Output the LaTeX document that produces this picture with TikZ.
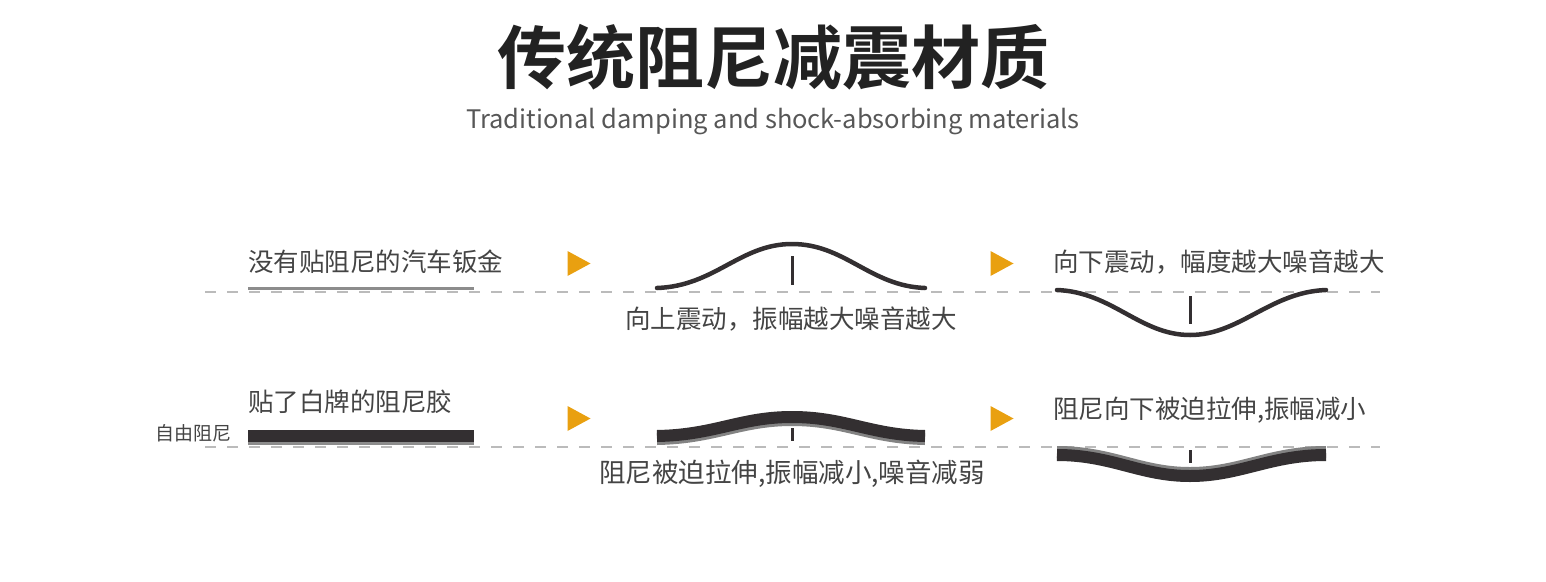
\documentclass[tikz,border=0pt]{standalone}
\usepackage{fontspec}
\setmainfont{Noto Sans CJK SC}
\newfontfamily\headfont{Noto Sans CJK SC Bold}
\usetikzlibrary{positioning}
\definecolor{ink}{HTML}{222222}
\definecolor{txt}{HTML}{444444}
\definecolor{wave}{HTML}{332F31}
\definecolor{gobtn}{HTML}{E9A010}
\definecolor{guide}{HTML}{BBBBBB}
\newcommand{\tick}[3]{\draw[wave, line width=3] (#1,#2) -- (#1,#3);}
\newcommand{\gomark}[2]{\fill[gobtn] (#1-11.5,#2-12.5) -- (#1+11.5,#2) -- (#1-11.5,#2+12.5) -- cycle;}

\begin{document}
\begin{tikzpicture}[x=1pt,y=-1pt,
    caption/.style={text=txt, inner sep=0pt, font=\fontsize{25.5}{28}\selectfont},
    guideline/.style={guide, line width=2, dash pattern=on 11 off 11},
    sheet/.style={wave, line width=4.5, line cap=round},
    band/.style={wave, line width=12},
    bandedge/.style={guide!70!black, line width=12}]
      \useasboundingbox (0,0) rectangle (1546,581);
      % heading
      \node[text=ink, inner sep=0pt, font=\fontsize{69}{72}\headfont] (title) at (773,57) {传统阻尼减震材质};
      \node[text=txt!90, inner sep=0pt, font=\fontsize{25.5}{28}\selectfont, below=18pt of title] (subtitle) {Traditional damping and shock-absorbing materials};

      % first row: bare sheet
      \draw[guideline] (205,292) -- (1380,292);
      \node[caption, anchor=west] (bare) at (248,262) {没有贴阻尼的汽车钣金};
      \fill[guide!75!black] (248,286.5) rectangle (474,290);
      \gomark{579}{263.5}
      \draw[sheet] (657,288) .. controls (715,286) and (740,244) .. (792,244)
        .. controls (845,244) and (870,286) .. (925,288);
      \tick{792}{256}{285}
      \node[caption] (up) at (791,319) {向上震动，振幅越大噪音越大};
      \gomark{1002}{263.5}
      \node[caption, anchor=west] (down) at (1053,262) {向下震动，幅度越大噪音越大};
      \draw[sheet] (1057,290) .. controls (1112,292) and (1140,335) .. (1190,335)
        .. controls (1240,335) and (1270,292) .. (1326,290);
      \tick{1190}{296}{324}

      % second row: free damping layer
      \draw[guideline] (205,447) -- (1380,447);
      \node[caption, anchor=west] (padded) at (248,402) {贴了白牌的阻尼胶};
      \node[text=txt, inner sep=0pt, font=\fontsize{19}{21}\selectfont, anchor=east] (free) at (232,433) {自由阻尼};
      \fill[guide!75!black] (248,441) rectangle (474,445);
      \fill[wave] (248,430) rectangle (474,442);
      \gomark{579}{418.5}
      \draw[bandedge] (657,439) .. controls (715,438) and (740,420) .. (792,420)
        .. controls (845,420) and (870,438) .. (925,439);
      \draw[band] (657,436) .. controls (715,435) and (740,417) .. (792,417)
        .. controls (845,417) and (870,435) .. (925,436);
      \tick{792}{428}{441}
      \node[caption, font=\fontsize{26.5}{29}\selectfont] (stretchup) at (792,474) {阻尼被迫拉伸,振幅减小,噪音减弱};
      \gomark{1002}{418.5}
      \node[caption, anchor=west] (stretchdown) at (1053,410) {阻尼向下被迫拉伸,振幅减小};
      \draw[bandedge] (1057,452) .. controls (1112,452) and (1140,473) .. (1190,473)
        .. controls (1240,473) and (1270,452) .. (1326,452);
      \draw[band] (1057,455) .. controls (1112,455) and (1140,476) .. (1190,476)
        .. controls (1240,476) and (1270,455) .. (1326,455);
      \tick{1190}{450}{463}
\end{tikzpicture}
\end{document}
